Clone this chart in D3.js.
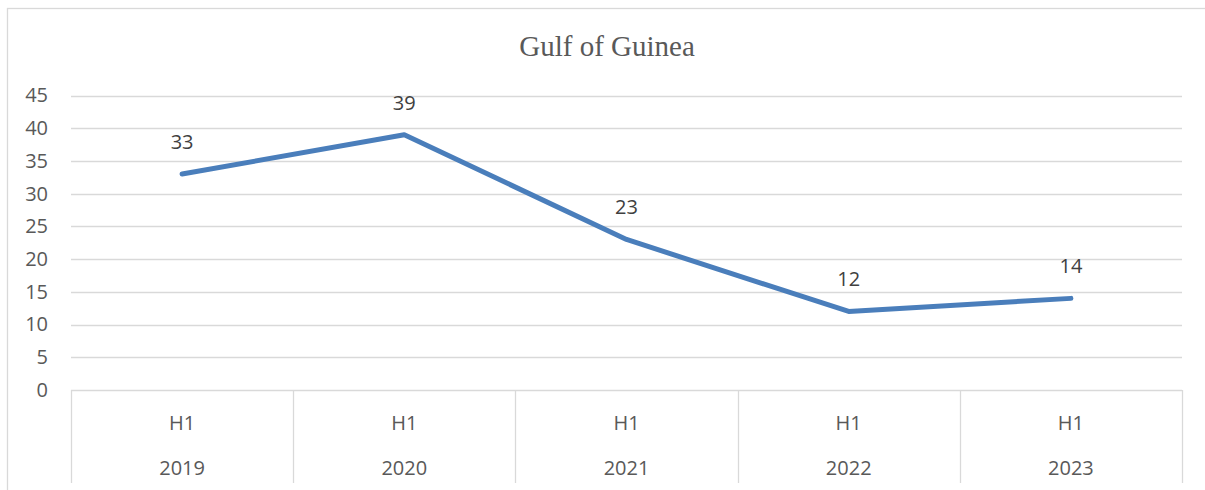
<!DOCTYPE html>
<html>
<head>
<meta charset="utf-8">
<script src="https://cdn.jsdelivr.net/npm/d3@7"></script>
<style>
  body { margin: 0; background: #fff; }
  svg text { font-family: "Open Sans", "Liberation Sans", sans-serif; }
</style>
</head>
<body>
<script>
// chart data
const years = ["2019", "2020", "2021", "2022", "2023"];
const halves = ["H1", "H1", "H1", "H1", "H1"];
const incidents = [33, 39, 23, 12, 14];
const yTicks = [0, 5, 10, 15, 20, 25, 30, 35, 40, 45];
const chartTitle = "Gulf of Guinea";

const width = 1205, height = 490;
const plotLeft = 71, plotRight = 1182, plotTop = 95.5, plotBottom = 390;

let svg = d3.select("body").append("svg")
    .attr("width", width)
    .attr("height", height);

// chart border (cropped on right and bottom)
svg.append("rect")
    .attr("x", 7.5).attr("y", 8.5)
    .attr("width", 1210).attr("height", 500)
    .attr("fill", "#fff")
    .attr("stroke", "#d9d9d9")
    .attr("stroke-width", 1.3);

let x = d3.scaleBand().domain(years).range([plotLeft, plotRight]);
let y = d3.scaleLinear().domain([0, 45]).range([plotBottom, plotTop]);

// title
svg.append("text")
    .attr("x", 607).attr("y", 56)
    .attr("text-anchor", "middle")
    .style("font-family", "'Liberation Serif', 'DejaVu Serif', serif")
    .style("font-size", "29px")
    .attr("fill", "#595959")
    .text(chartTitle);

// gridlines
svg.append("g").selectAll("line")
    .data(yTicks.filter(d => d > 0))
    .enter().append("line")
    .attr("x1", plotLeft).attr("x2", plotRight)
    .attr("y1", d => Math.round(y(d)) + 0.5)
    .attr("y2", d => Math.round(y(d)) + 0.5)
    .attr("stroke", "#d9d9d9")
    .attr("stroke-width", 1.3);

// y axis labels
let yAxis = svg.append("g")
    .attr("transform", "translate(" + (plotLeft - 6) + ",0)")
    .call(d3.axisLeft(y).tickValues(yTicks).tickSize(0).tickPadding(17));
yAxis.select(".domain").remove();
yAxis.selectAll("text")
    .style("font-size", "20px")
    .attr("fill", "#595959");

// category axis (multi-level: half over year, with band separators)
let edges = years.map(d => x(d)).concat([plotRight]);
svg.append("line")
    .attr("x1", plotLeft).attr("x2", plotRight)
    .attr("y1", Math.round(plotBottom) + 0.5).attr("y2", Math.round(plotBottom) + 0.5)
    .attr("stroke", "#d9d9d9").attr("stroke-width", 1.3);
svg.append("g").selectAll("line")
    .data(edges)
    .enter().append("line")
    .attr("x1", d => Math.round(d) + 0.5).attr("x2", d => Math.round(d) + 0.5)
    .attr("y1", plotBottom).attr("y2", 483)
    .attr("stroke", "#d9d9d9").attr("stroke-width", 1.3);

let cats = svg.append("g").selectAll("g")
    .data(years)
    .enter().append("g")
    .attr("transform", d => "translate(" + (x(d) + x.bandwidth() / 2) + ",0)");
cats.append("text")
    .attr("y", 430)
    .attr("text-anchor", "middle")
    .style("font-size", "20px")
    .attr("fill", "#595959")
    .text((d, i) => halves[i]);
cats.append("text")
    .attr("y", 475)
    .attr("text-anchor", "middle")
    .style("font-size", "20px")
    .attr("fill", "#595959")
    .text(d => d);

// series line
let pts = years.map((d, i) => ({ year: d, value: incidents[i] }));
let line = d3.line()
    .x(d => x(d.year) + x.bandwidth() / 2)
    .y(d => y(d.value));
svg.append("path")
    .datum(pts)
    .attr("d", line)
    .attr("fill", "none")
    .attr("stroke", "#4a7ebb")
    .attr("stroke-width", 5)
    .attr("stroke-linecap", "round")
    .attr("stroke-linejoin", "round");

// data labels
svg.append("g").selectAll("text")
    .data(pts)
    .enter().append("text")
    .attr("x", d => x(d.year) + x.bandwidth() / 2)
    .attr("y", d => y(d.value) - 25)
    .attr("text-anchor", "middle")
    .style("font-size", "20px")
    .attr("fill", "#404040")
    .text(d => d.value);
</script>
</body>
</html>
